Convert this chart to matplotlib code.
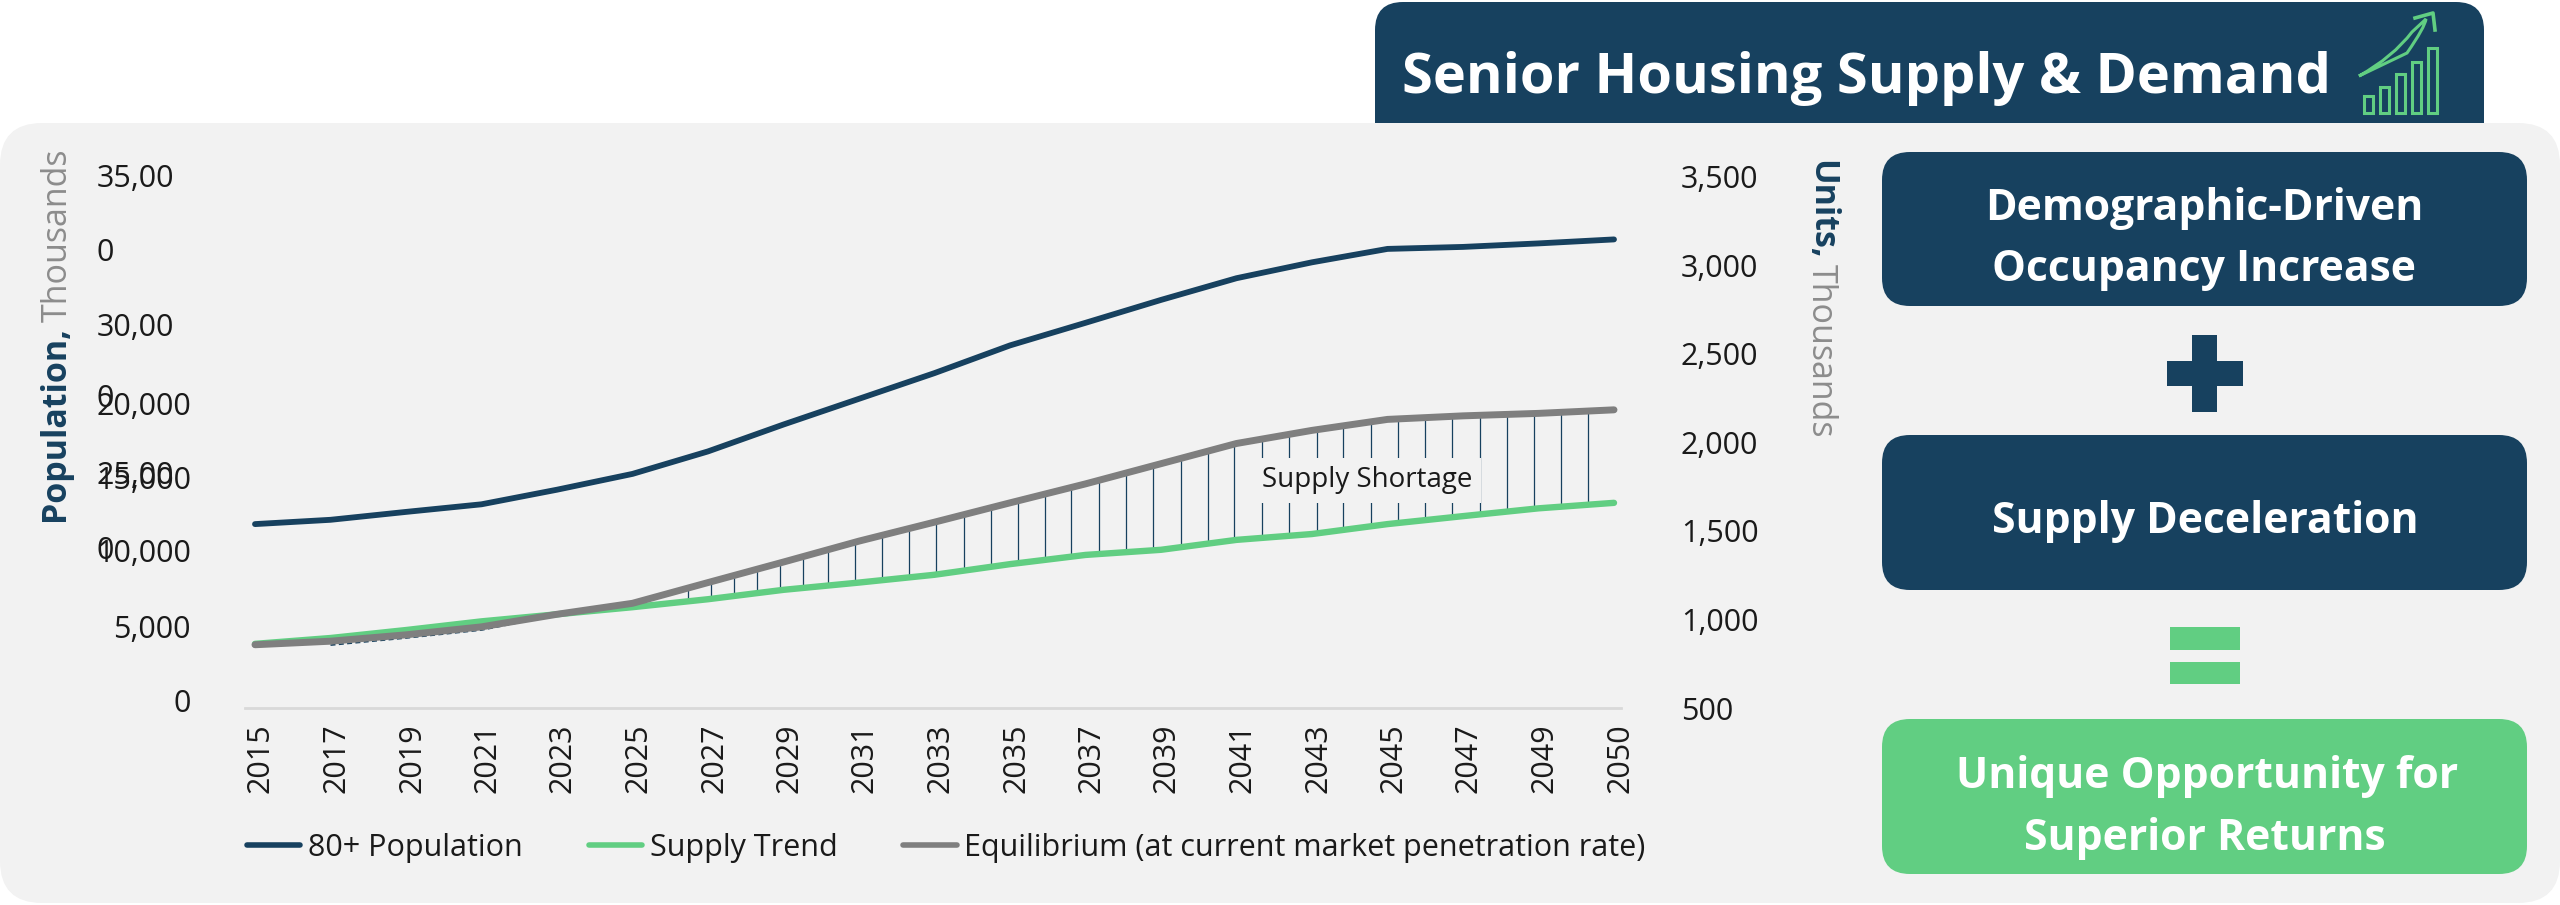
import matplotlib
matplotlib.use("Agg")
import matplotlib.pyplot as plt
from matplotlib.patches import FancyBboxPatch, Rectangle, PathPatch
from matplotlib.path import Path
from matplotlib.lines import Line2D
from matplotlib.transforms import ScaledTranslation

plt.rcParams['font.family'] = ['Open Sans', 'DejaVu Sans']

# DATA
years = ["2015", "2017", "2019", "2021", "2023", "2025", "2027", "2029", "2031", "2033",
         "2035", "2037", "2039", "2041", "2043", "2045", "2047", "2049", "2050"]
population = [12110, 12393, 12913, 13414, 14375, 15416, 16897, 18668, 20361, 22053,
              23877, 25365, 26873, 28302, 29349, 30232, 30363, 30594, 30857]
supply = [862, 895, 940, 989, 1029, 1069, 1114, 1167, 1208, 1252,
          1312, 1364, 1393, 1449, 1482, 1538, 1583, 1627, 1658]
equilibrium = [857, 877, 913, 958, 1029, 1091, 1208, 1324, 1442, 1549,
               1658, 1765, 1879, 1993, 2067, 2129, 2149, 2163, 2183]
dash_pos = [1, 2, 3, 4]
dash_vals = [855, 895, 940, 1025]
# where the thin shortage lines stand, in category units
shortage_pos = [5.735, 6.04, 6.344, 6.649, 6.954, 7.258, 7.589, 7.947, 8.305, 8.664,
                9.025, 9.385, 9.747, 10.10, 10.46, 10.81, 11.18, 11.54, 11.90, 12.26,
                12.62, 12.97, 13.34, 13.70, 14.06, 14.41, 14.78, 15.14, 15.50, 15.86,
                16.22, 16.58, 16.94, 17.30, 17.65]
left_ticks = [0, 5000, 10000, 15000, 20000]
right_ticks = [500, 1000, 1500, 2000, 2500, 3000, 3500]
# the top left labels wrap in the original, so they are plain text lines
wrapped_labels = ["35,00", "0", "30,00", "0", "25,00", "0"]
wrapped_y = [179, 253, 328, 399, 476, 551]
# the low left labels sit a little off their gridline
left_label_shift = [8, 6, 6, 3, 1]

NAVY = "#17415F"
GREEN = "#61CE82"
GRAY = "#7F7F7F"
PANEL = "#F2F2F2"
TEXT = "#1A1A1A"
FS = 22

W, H = 2560, 905
fig = plt.figure(figsize=(W / 100, H / 100), dpi=100, facecolor="white")

# pixel canvas for panel, boxes and icon
bg = fig.add_axes([0, 0, 1, 1], zorder=0)
bg.set_xlim(0, W)
bg.set_ylim(H, 0)
bg.axis("off")


def box(x0, y0, x1, y1, r, color, z=2):
    bg.add_patch(FancyBboxPatch((x0, y0), x1 - x0, y1 - y0,
                                boxstyle="round,pad=0,rounding_size=%d" % r,
                                fc=color, ec="none", zorder=z))


box(1375, 2, 2484, 170, 28, NAVY, z=1)
box(0, 123, 2560, 903, 42, PANEL, z=2)
box(1882, 152, 2527, 306, 28, NAVY, z=3)
box(1882, 435, 2527, 590, 28, NAVY, z=3)
box(1882, 719, 2527, 874, 28, GREEN, z=3)

# plus and equals
bg.add_patch(Rectangle((2192, 335), 25, 77, fc=NAVY, ec="none", zorder=3))
bg.add_patch(Rectangle((2167, 361), 76, 25, fc=NAVY, ec="none", zorder=3))
bg.add_patch(Rectangle((2170, 627), 70, 23, fc=GREEN, ec="none", zorder=3))
bg.add_patch(Rectangle((2170, 662), 70, 22, fc=GREEN, ec="none", zorder=3))

# icon
for bx, by in zip([2364, 2380, 2396, 2412, 2428], [96, 87, 74, 62, 48]):
    bg.add_patch(Rectangle((bx, by), 9, 113 - by, fc="none", ec=GREEN, lw=2.2, zorder=3))
arrow = Path([(2359, 76), (2393, 57), (2412, 32), (2426, 19), (2425, 27), (2407, 53), (2359, 76)],
             [Path.MOVETO, Path.CURVE3, Path.CURVE3, Path.LINETO, Path.CURVE3, Path.CURVE3, Path.LINETO])
bg.add_patch(PathPatch(arrow, fc="none", ec=GREEN, lw=2.2, zorder=3))
bg.plot([2415, 2433, 2435], [18, 13, 30], color=GREEN, lw=2.6, zorder=3)

# box texts
bg.text(1402, 79, "Senior Housing Supply & Demand", color="white", fontsize=40.3, weight="bold",
        ha="left", va="center", zorder=4)
for tx, ty, s, c in [(2204, 208, "Demographic-Driven", "white"),
                     (2204, 269, "Occupancy Increase", "white"),
                     (2205, 521, "Supply Deceleration", "white"),
                     (2207, 776, "Unique Opportunity for", "white"),
                     (2205, 838, "Superior Returns", "white")]:
    bg.text(tx, ty, s, color=c, fontsize=30.7, weight="bold", ha="center", va="center", zorder=4)

# axis titles
bg.text(55, 521, "Population,", color=NAVY, fontsize=24.5, weight="bold", rotation=90,
        ha="center", va="bottom", zorder=4)
bg.text(58, 322, "Thousands", color="#8C8C8C", fontsize=24.5, rotation=90,
        ha="center", va="bottom", zorder=4)
bg.text(1821, 160, "Units,", color=NAVY, fontsize=24.5, weight="bold", rotation=270,
        ha="center", va="top", zorder=4)
bg.text(1821, 264, "Thousands", color="#8C8C8C", fontsize=24.5, rotation=270,
        ha="center", va="top", zorder=4)

for s, ty in zip(wrapped_labels, wrapped_y):
    bg.text(97, ty, s, color=TEXT, fontsize=FS, ha="left", va="center", zorder=4)

# CHART
x0, x1, y0, y1 = 245, 1621, 176.5, 708
ax = fig.add_axes([x0 / W, 1 - y1 / H, (x1 - x0) / W, (y1 - y0) / H], zorder=1)
ax.patch.set_alpha(0)
idx = list(range(len(years)))
ax.set_xlim(-10 / 75.5, 18 + 7 / 75.5)
ax.set_ylim(0, 35000)
for s in ["top", "left", "right"]:
    ax.spines[s].set_visible(False)
ax.spines["bottom"].set_color("#D9D9D9")
ax.spines["bottom"].set_linewidth(2)

ax.plot(idx, population, color=NAVY, lw=4.2, solid_capstyle="round", zorder=3)
ax.set_xticks(idx)
ax.set_xticklabels(years, rotation=90, fontsize=FS, color=TEXT)
ax.tick_params(axis="x", length=0, pad=11)
nudge = ScaledTranslation(6 / 100, 0, fig.dpi_scale_trans)
for lab in ax.get_xticklabels():
    lab.set_transform(lab.get_transform() + nudge)
ax.set_yticks(left_ticks)
ax.set_yticklabels(["{:,}".format(v) for v in left_ticks], fontsize=FS, color=TEXT)
ax.tick_params(axis="y", length=0, pad=39)
for lab, up in zip(ax.get_yticklabels(), left_label_shift):
    lab.set_transform(lab.get_transform() + ScaledTranslation(0, up / 100, fig.dpi_scale_trans))

ax2 = ax.twinx()
ax2.set_zorder(2)
ax2.patch.set_alpha(0)
ax2.set_ylim(500, 3500)
for s in ax2.spines.values():
    s.set_visible(False)
ax2.set_yticks(right_ticks)
ax2.set_yticklabels(["{:,}".format(v) for v in right_ticks], fontsize=FS, color=TEXT)
ax2.tick_params(axis="y", length=0, pad=43)

gap = ax2.fill_between(idx, supply, equilibrium, facecolor="none", edgecolor="none")
drops = ax2.vlines(shortage_pos, 500, 3500, color=NAVY, lw=0.9, zorder=1)
drops.set_clip_path(gap.get_paths()[0], gap.get_transform())
ax2.plot(dash_pos, dash_vals, color=NAVY, lw=1.2, ls=(0, (3, 2)), zorder=1.5)
ax2.plot(idx, supply, color=GREEN, lw=4.6, solid_capstyle="round", zorder=2)
ax2.plot(idx, equilibrium, color=GRAY, lw=5, solid_capstyle="round", zorder=3)

ax2.text(14.73, 1785, "Supply Shortage", color=TEXT, fontsize=20, ha="center", va="center", zorder=4,
         bbox=dict(fc=PANEL, ec="none", pad=6))

handles = [Line2D([], [], color=NAVY, lw=4, solid_capstyle="round"),
           Line2D([], [], color=GREEN, lw=4, solid_capstyle="round"),
           Line2D([], [], color=GRAY, lw=4, solid_capstyle="round")]
fig.legend(handles, ["80+ Population", "Supply Trend", "Equilibrium (at current market penetration rate)"],
           loc="center left", bbox_to_anchor=(247 / W, 1 - 848 / H), ncol=3, frameon=False,
           fontsize=22, labelcolor=TEXT, borderaxespad=0, borderpad=0,
           handlelength=1.75, handletextpad=0.25, columnspacing=2.15)

fig.savefig("out.png", dpi=100)
